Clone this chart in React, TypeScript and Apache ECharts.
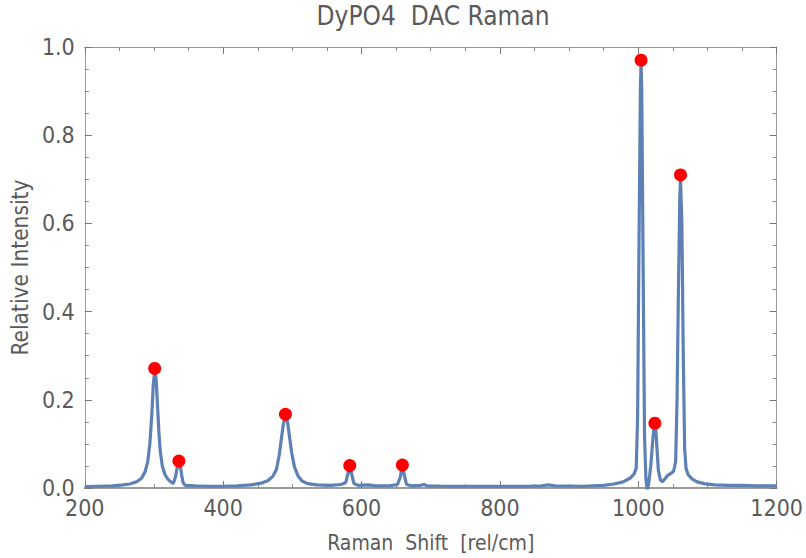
import React, { useEffect, useRef } from "react";
import * as echarts from "echarts";

const titleText = "DyPO4  DAC Raman";
const xName = "Raman  Shift  [rel/cm]";
const yName = "Relative Intensity";

const shift = [
  200, 220, 240, 255, 265, 275, 282, 287, 291, 294, 297, 299, 301, 303, 305, 307, 309, 312, 316, 320,
  325, 328, 331, 334, 336, 338, 340, 342, 345, 360, 380, 400, 420, 440, 455, 465, 472, 477, 481, 484,
  487, 490, 493, 496, 499, 503, 508, 514, 522, 535, 555, 570, 577, 580, 583, 586, 589, 595, 610, 620,
  640, 652, 656, 659, 662, 665, 672, 685, 690, 695, 720, 760, 800, 840, 860, 870, 880, 920, 950, 965,
  978, 988, 994, 997, 999, 1001, 1003, 1004, 1005, 1007, 1009, 1011, 1013, 1015, 1018, 1021, 1023, 1025, 1027, 1029,
  1032, 1035, 1038, 1042, 1047, 1051, 1054, 1056, 1058, 1060, 1061, 1063, 1065, 1067, 1069, 1072, 1078, 1085, 1095, 1110,
  1130, 1150, 1170, 1200,
];
const intensity = [
  0.003, 0.004, 0.005, 0.007, 0.009, 0.014, 0.022, 0.036, 0.06, 0.1, 0.17, 0.235, 0.265, 0.25, 0.19, 0.13, 0.085, 0.05, 0.03, 0.02,
  0.013, 0.01, 0.025, 0.05, 0.058, 0.05, 0.03, 0.012, 0.006, 0.005, 0.004, 0.004, 0.005, 0.007, 0.011, 0.017, 0.027, 0.042, 0.075, 0.11,
  0.145, 0.163, 0.15, 0.115, 0.08, 0.048, 0.028, 0.016, 0.01, 0.007, 0.006, 0.008, 0.012, 0.03, 0.05, 0.03, 0.01, 0.006, 0.007, 0.005,
  0.005, 0.008, 0.025, 0.05, 0.028, 0.008, 0.005, 0.006, 0.008, 0.005, 0.004, 0.004, 0.004, 0.004, 0.005, 0.007, 0.005, 0.004, 0.006, 0.009,
  0.014, 0.022, 0.032, 0.045, 0.16, 0.55, 0.9, 0.965, 0.9, 0.5, 0.12, 0.02, -0.004, 0.01, 0.05, 0.11, 0.14, 0.14, 0.09, 0.04,
  0.018, 0.014, 0.02, 0.028, 0.033, 0.038, 0.06, 0.2, 0.45, 0.66, 0.7, 0.6, 0.3, 0.09, 0.045, 0.03, 0.02, 0.014, 0.01, 0.007,
  0.006, 0.006, 0.005, 0.005,
];

const peakShift = [301, 336, 490, 583, 659, 1004, 1024, 1061];
const peakIntensity = [0.271, 0.061, 0.167, 0.051, 0.052, 0.970, 0.147, 0.710];

const xTicks = [200, 400, 600, 800, 1000, 1200];
const yTicks = [0.0, 0.2, 0.4, 0.6, 0.8, 1.0];

const FONT = "'Liberation Sans Narrow', 'DejaVu Sans Condensed', 'Liberation Sans', sans-serif";
const TEXT = "#5a5a5a";
const FRAME = "#9a9a9a";

export default function App() {
  const ref = useRef<HTMLDivElement>(null);
  useEffect(() => {
    if (!ref.current) return;
    const chart = echarts.init(ref.current, null, { renderer: "svg" });
    const frameAxis = (pos: string, showLabel: boolean, isX: boolean) => ({
      type: "value",
      position: pos,
      min: isX ? xTicks[0] : yTicks[0],
      max: isX ? xTicks[xTicks.length - 1] : yTicks[yTicks.length - 1],
      interval: isX ? 200 : 0.2,
      axisLine: { show: true, onZero: false, lineStyle: { color: FRAME, width: pos === "bottom" ? 2 : 1 } },
      axisTick: { show: true, inside: true, length: 7, lineStyle: { color: "#777777", width: 1 } },
      minorTick: { show: true, splitNumber: 4, length: 4, lineStyle: { color: "#888888", width: 1 } },
      splitLine: { show: false },
      minorSplitLine: { show: false },
      axisLabel: {
        show: showLabel,
        color: TEXT,
        fontFamily: FONT,
        fontSize: 23,
        margin: isX ? 8 : 10,
        formatter: (v: number) => (isX ? String(v) : v.toFixed(1)),
      },
    });
    const xBottom: any = {
      ...frameAxis("bottom", true, true),
      name: xName,
      nameLocation: "middle",
      nameGap: 44,
      nameTextStyle: { color: TEXT, fontFamily: FONT, fontSize: 21 },
    };
    const yLeft: any = {
      ...frameAxis("left", true, false),
      name: yName,
      nameLocation: "middle",
      nameGap: 49,
      nameRotate: 90,
      nameTextStyle: { color: TEXT, fontFamily: FONT, fontSize: 22.5 },
    };
    chart.setOption({
      animation: false,
      backgroundColor: "#ffffff",
      title: {
        text: titleText,
        left: 433,
        top: 3,
        padding: 0,
        textAlign: "center",
        textStyle: { color: TEXT, fontFamily: FONT, fontSize: 26, fontWeight: "normal" },
      },
      grid: { left: 83, right: 23, top: 47, bottom: 68 },
      xAxis: [xBottom, frameAxis("top", false, true)],
      yAxis: [yLeft, frameAxis("right", false, false)],
      series: [
        {
          type: "line",
          xAxisIndex: 0,
          yAxisIndex: 0,
          data: shift.map((x, i) => [x, intensity[i]]),
          showSymbol: false,
          symbol: "none",
          lineStyle: { color: "#5E81B5", width: 3.2 },
          z: 2,
        },
        {
          type: "scatter",
          xAxisIndex: 0,
          yAxisIndex: 0,
          data: peakShift.map((x, i) => [x, peakIntensity[i]]),
          symbol: "circle",
          symbolSize: 13,
          itemStyle: { color: "#FF0000", opacity: 1 },
          z: 3,
        },
      ],
    });
    return () => chart.dispose();
  }, []);
  return (
    <div
      ref={ref}
      style={{ position: "fixed", left: 0, top: 0, width: 806, height: 558, background: "#fff" }}
    />
  );
}
